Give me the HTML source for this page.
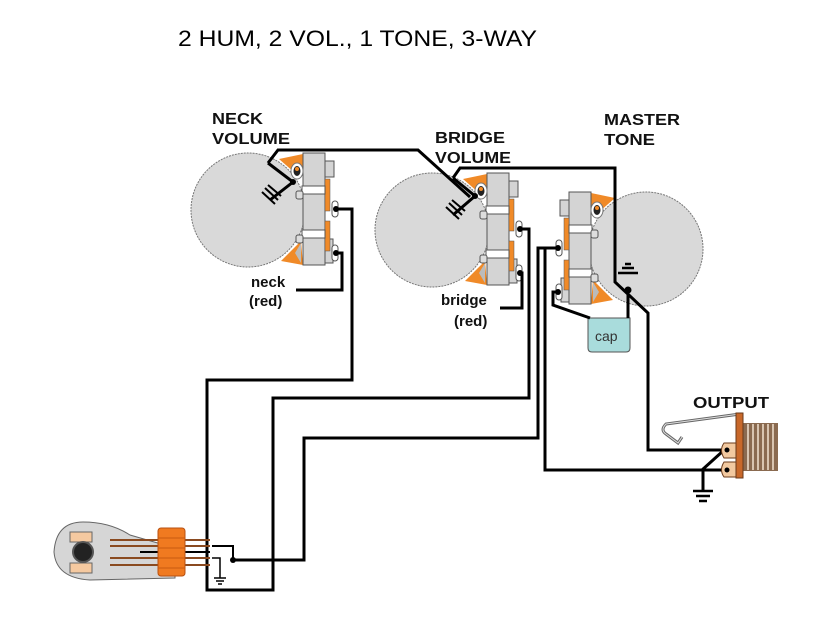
<!DOCTYPE html>
<html><head><meta charset="utf-8"><style>
html,body{margin:0;padding:0;background:#fff}
svg{display:block}
.lb{font-family:"Liberation Sans","DejaVu Sans",sans-serif;font-weight:bold;font-size:16px;fill:#111}
.sm{font-family:"Liberation Sans",sans-serif;font-weight:bold;font-size:15px;fill:#111}
.w{fill:none;stroke:#000;stroke-width:3}
</style></head><body>
<svg width="814" height="623" viewBox="0 0 814 623" xmlns="http://www.w3.org/2000/svg">
<defs>
<g id="pot">
  <circle cx="-55" cy="57" r="57" fill="#d9d9d9" stroke="#777" stroke-width="1" stroke-dasharray="2,1"/>
  <polygon points="-24,6 0,1 0,20 -8,20" fill="#f08a28"/>
  <polygon points="-22,108 -2,88 0,112" fill="#f08a28"/>
  <polygon points="-8,100 -2,90 -2,110" fill="#bbb"/>
  <rect x="0" y="0" width="22" height="112" fill="#d4d4d4" stroke="#555"/>
  <rect x="22" y="8" width="9" height="16" fill="#d4d4d4" stroke="#555"/>
  <rect x="22" y="86" width="8" height="24" fill="#d4d4d4" stroke="#555"/>
  <rect x="22" y="26" width="5" height="32" fill="#f08a28" stroke="#555" stroke-width=".5"/>
  <rect x="22" y="68" width="5" height="30" fill="#f08a28" stroke="#555" stroke-width=".5"/>
  <rect x="-1" y="33" width="23" height="8" fill="#fff" stroke="#555"/>
  <rect x="-1" y="77" width="23" height="8" fill="#fff" stroke="#555"/>
  <rect x="-7" y="38" width="7" height="8" rx="2" fill="#ddd" stroke="#555"/>
  <rect x="-7" y="82" width="7" height="8" rx="2" fill="#ddd" stroke="#555"/>
  <rect x="29" y="48" width="6" height="16" rx="3" fill="#fff" stroke="#555"/>
  <rect x="29" y="92" width="6" height="16" rx="3" fill="#fff" stroke="#555"/>
  <circle cx="33" cy="56" r="3" fill="#000"/>
  <circle cx="33" cy="100" r="3" fill="#000"/>
  <ellipse cx="-6" cy="18" rx="6" ry="8" fill="#fff" stroke="#777"/>
  <ellipse cx="-6" cy="18" rx="3.5" ry="5" fill="#222"/>
  <circle cx="-6" cy="16" r="2" fill="#f08a28"/>
</g>
</defs>

<text x="178" y="46" font-family="Liberation Sans,sans-serif" font-size="22" fill="#000" textLength="359" lengthAdjust="spacingAndGlyphs">2 HUM, 2 VOL., 1 TONE, 3-WAY</text>

<text class="lb" x="212" y="124" textLength="51" lengthAdjust="spacingAndGlyphs">NECK</text><text class="lb" x="212" y="144" textLength="78" lengthAdjust="spacingAndGlyphs">VOLUME</text>
<text class="lb" x="435" y="143" textLength="70" lengthAdjust="spacingAndGlyphs">BRIDGE</text><text class="lb" x="435" y="163" textLength="76" lengthAdjust="spacingAndGlyphs">VOLUME</text>
<text class="lb" x="604" y="125" textLength="76" lengthAdjust="spacingAndGlyphs">MASTER</text><text class="lb" x="604" y="145" textLength="51" lengthAdjust="spacingAndGlyphs">TONE</text>
<text class="lb" x="693" y="408" textLength="76" lengthAdjust="spacingAndGlyphs">OUTPUT</text>

<use href="#pot" transform="translate(303,153)"/>
<use href="#pot" transform="translate(487,173)"/>
<use href="#pot" transform="translate(591,192) scale(-1,1)"/>

<path d="M588,318 L630,318 L630,348 Q630,352 626,352 L592,352 Q588,352 588,348 Z" fill="#a9dcdc" stroke="#555"/>
<text x="595" y="341" font-family="Liberation Sans,sans-serif" font-size="14" fill="#333">cap</text>

<path class="w" d="M268,163 L278,150 L418,150 L470,197"/>
<path class="w" d="M268,163 L293,182 L270,200"/>
<path class="w" d="M453,178 L460,168 L615,168 L615,282 L648,313 L648,450 L727,450"/>
<path class="w" d="M453,178 L475,196 L453,215"/>
<g stroke="#000" stroke-width="2"><line x1="262" y1="192" x2="275" y2="204"/><line x1="265" y1="188" x2="278" y2="200"/><line x1="268" y1="185" x2="281" y2="196"/>
<line x1="446" y1="207" x2="459" y2="219"/><line x1="449" y1="203" x2="462" y2="215"/><line x1="452" y1="200" x2="465" y2="211"/></g>
<circle cx="293" cy="182" r="3" fill="#000"/><circle cx="475" cy="196" r="3" fill="#000"/>
<path class="w" d="M336,209 L352,209 L352,380 L207,380 L207,590 L273,590 L273,398 L529,398 L529,229 L520,229"/>
<path class="w" d="M336,253 L342,253 L342,290 L296,290"/>
<path class="w" d="M520,273 L522,273 L522,308 L500,308"/>
<path class="w" d="M558,248 L538,248 L538,438 L304,438 L304,560 L232,560"/>
<path class="w" d="M545,248 L545,470 L727,470"/>
<path class="w" d="M702,470 L723,451"/>
<path class="w" d="M703,470 L703,490"/>
<path class="w" d="M558,292 L553,292 L553,305 L590,318"/>
<path class="w" d="M628,318 L628,290"/>
<circle cx="628" cy="290" r="3.5" fill="#000"/>
<g stroke="#000" stroke-width="2.5"><line x1="618" y1="273" x2="638" y2="273"/><line x1="622" y1="268" x2="634" y2="268"/><line x1="625" y1="264" x2="631" y2="264"/></g>
<g stroke="#000" stroke-width="2.5"><line x1="693" y1="491" x2="713" y2="491"/><line x1="696" y1="496" x2="710" y2="496"/><line x1="699" y1="501" x2="707" y2="501"/></g>

<text class="sm" x="251" y="287">neck</text><text class="sm" x="249" y="306">(red)</text>
<text class="sm" x="441" y="305">bridge</text><text class="sm" x="454" y="326">(red)</text>

<path d="M740,414 L666,424 Q660,430 666,434 L678,443 L682,437" fill="none" stroke="#666" stroke-width="3"/>
<path d="M740,414 L666,424 Q660,430 666,434 L678,443 L682,437" fill="none" stroke="#ddd" stroke-width="1"/>
<rect x="743" y="423" width="35" height="48" fill="#8a6a50"/>
<g stroke="#f3e3d0" stroke-width="1.5"><line x1="748" y1="424" x2="748" y2="470"/><line x1="753" y1="424" x2="753" y2="470"/><line x1="758" y1="424" x2="758" y2="470"/><line x1="763" y1="424" x2="763" y2="470"/><line x1="768" y1="424" x2="768" y2="470"/><line x1="773" y1="424" x2="773" y2="470"/></g>
<rect x="736" y="413" width="7" height="65" fill="#c8682a" stroke="#6a3a1a"/>
<path d="M736,443 L724,443 Q719,450 724,458 L736,458 Z" fill="#f2c9a0" stroke="#6a3a1a"/>
<path d="M736,462 L724,462 Q719,470 724,477 L736,477 Z" fill="#f2c9a0" stroke="#6a3a1a"/>
<circle cx="727" cy="450" r="2.5" fill="#000"/><circle cx="727" cy="470" r="2.5" fill="#000"/>

<path d="M83,522 Q110,522 130,535 L175,548 L175,578 L90,580 Q56,578 54,552 Q56,522 83,522 Z" fill="#d6d6d6" stroke="#666"/>
<rect x="70" y="532" width="22" height="10" fill="#f5c9a0" stroke="#666"/>
<rect x="70" y="563" width="22" height="10" fill="#f5c9a0" stroke="#666"/>
<circle cx="83" cy="552" r="10" fill="#222" stroke="#555" stroke-width="2"/>
<g stroke="#8a4a20" stroke-width="2"><line x1="110" y1="540" x2="210" y2="540"/><line x1="110" y1="546" x2="210" y2="546"/><line x1="110" y1="558" x2="210" y2="558"/><line x1="110" y1="565" x2="210" y2="565"/></g>
<line x1="140" y1="552" x2="210" y2="552" stroke="#000" stroke-width="2"/>
<rect x="158" y="528" width="27" height="48" rx="3" fill="#f07a20" stroke="#b85010"/>
<g stroke="#c85a10" stroke-width="1"><line x1="158" y1="538" x2="185" y2="538"/><line x1="158" y1="548" x2="185" y2="548"/><line x1="158" y1="558" x2="185" y2="558"/><line x1="158" y1="568" x2="185" y2="568"/></g>
<path d="M212,546 L233,546 L233,560" fill="none" stroke="#000" stroke-width="2"/>
<circle cx="233" cy="560" r="3" fill="#000"/>
<path d="M212,558 L220,558 L220,578" fill="none" stroke="#000" stroke-width="1.5"/>
<g stroke="#000" stroke-width="1.5"><line x1="214" y1="578" x2="226" y2="578"/><line x1="216" y1="581" x2="224" y2="581"/><line x1="218" y1="584" x2="222" y2="584"/></g>
</svg>
</body></html>
